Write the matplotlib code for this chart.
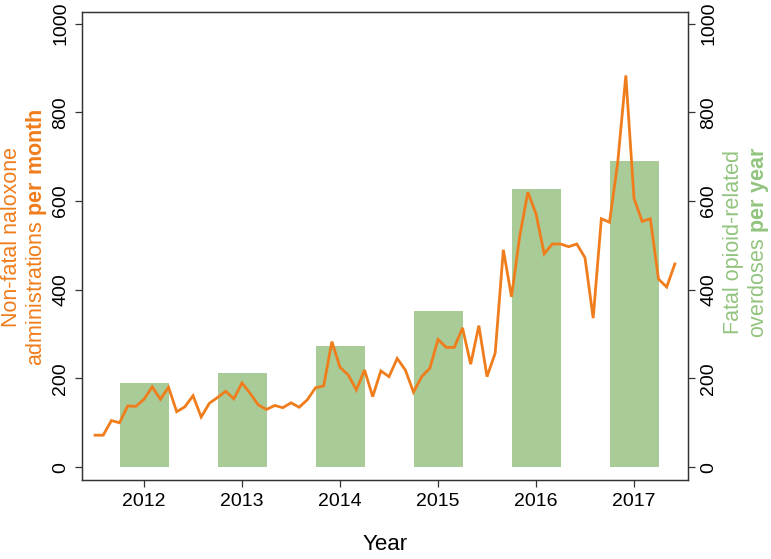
import numpy as np
import matplotlib
matplotlib.use("Agg")
import matplotlib.pyplot as plt

plt.rcParams['font.family'] = ['Liberation Sans', 'DejaVu Sans']
plt.rcParams['mathtext.fontset'] = 'custom'
plt.rcParams['mathtext.rm'] = 'Liberation Sans'
plt.rcParams['mathtext.bf'] = 'Liberation Sans:bold'

# monthly non-fatal naloxone administrations, Jul 2011 - Jun 2017
start_year = 2011.5
naloxone = [72, 72, 105, 100, 138, 137, 153, 181, 153, 180, 125, 136,
            161, 113, 144, 157, 171, 154, 190, 166, 140, 130, 139, 134,
            145, 135, 152, 179, 183, 283, 225, 208, 174, 219, 159, 217,
            204, 245, 219, 169, 204, 223, 288, 270, 270, 314, 232, 319,
            204, 257, 490, 384, 520, 620, 571, 481, 503, 503, 497, 503,
            472, 336, 560, 552, 686, 883, 606, 554, 560, 424, 406, 458]

# fatal opioid-related overdoses per year
years = [2012, 2013, 2014, 2015, 2016, 2017]
fatal = [190, 212, 274, 353, 627, 690]

orange = "#f07d1c"
green = "#a8cb97"

months = start_year + np.arange(len(naloxone)) / 12.0

fig = plt.figure(figsize=(7.71, 5.59), dpi=100)
ax = fig.add_axes([82/771, 1 - 480/559, (688-82)/771, (480-12)/559])
ax2 = ax.twinx()

ax2.bar(years, fatal, width=0.5, color=green, edgecolor='none')
ax.plot(months, naloxone, color=orange, lw=2.0, solid_joinstyle='miter')

ax.set_zorder(ax2.get_zorder() + 1)
ax.patch.set_visible(False)

for a in (ax, ax2):
    a.set_xlim(2011.367, 2017.551)
    a.set_ylim(-29, 1026)
    a.set_yticks([0, 200, 400, 600, 800, 1000])
    a.tick_params(length=5, width=0.9, labelsize=14, color='#333333')
    for s in a.spines.values():
        s.set_color('#333333')
        s.set_linewidth(0.9)

ax.set_xticks(years)
ax.tick_params(axis='x', pad=4)
ax.tick_params(axis='y', pad=4)
ax2.tick_params(axis='y', pad=4)
for lab in ax.get_yticklabels() + ax2.get_yticklabels():
    lab.set_rotation(90)
    lab.set_va('center')

fig.text(385/771, 1 - 545/559, "Year", ha='center', va='center', fontsize=16)

fig.text(25/771, 1 - 237/559,
         "Non-fatal naloxone\nadministrations $\\bf{per\\ month}$",
         rotation=90, ha='center', va='center', fontsize=15.5, color=orange,
         multialignment='center', linespacing=1.1)
fig.text(747/771, 1 - 242/559,
         "Fatal opioid-related\noverdoses $\\bf{per\\ year}$",
         rotation=90, ha='center', va='center', fontsize=15.5, color="#92c47f",
         multialignment='center', linespacing=1.1)

fig.savefig("out.png", dpi=100)
